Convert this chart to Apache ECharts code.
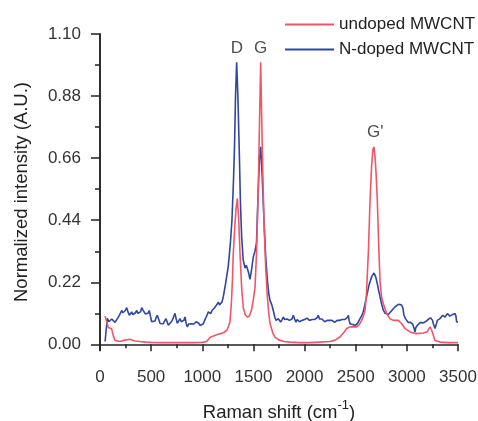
<!DOCTYPE html>
<html><head><meta charset="utf-8">
<script src="https://cdn.jsdelivr.net/npm/echarts@6/dist/echarts.min.js"></script>
<style>html,body{margin:0;padding:0;background:#fff}#c{width:478px;height:421px}</style>
</head><body><div id="c"></div><script>
// ---- data ----
const undopedX = [50,65,81,100,114,130,147,196,240,293,340,391,450,500,600,700,800,900,1000,1043,1075,1110,1141,1180,1210,1240,1258,1271,1285,1295,1303,1315,1330,1342,1355,1369,1385,1401,1420,1440,1460,1480,1500,1515,1530,1548,1560,1571,1582,1592,1603,1620,1636,1650,1662,1690,1711,1750,1800,1857,1950,2050,2150,2250,2300,2346,2380,2412,2445,2477,2509,2535,2558,2575,2591,2605,2624,2640,2655,2668,2679,2690,2700,2711,2725,2738,2754,2770,2803,2835,2868,2917,2950,2982,3031,3096,3161,3200,3226,3243,3275,3324,3400,3500];
const undopedY = [0.10,0.097,0.06,0.058,0.055,0.03,0.014,0.01,0.015,0.018,0.012,0.01,0.008,0.007,0.006,0.006,0.006,0.006,0.007,0.01,0.024,0.03,0.034,0.038,0.042,0.05,0.065,0.08,0.15,0.23,0.32,0.40,0.48,0.517,0.45,0.32,0.20,0.13,0.105,0.097,0.10,0.12,0.16,0.20,0.32,0.56,0.80,1.00,0.78,0.60,0.44,0.27,0.17,0.11,0.074,0.04,0.026,0.015,0.01,0.008,0.006,0.006,0.008,0.01,0.015,0.026,0.04,0.056,0.062,0.062,0.062,0.07,0.085,0.10,0.12,0.18,0.33,0.51,0.63,0.69,0.70,0.66,0.60,0.51,0.35,0.22,0.165,0.144,0.109,0.091,0.085,0.085,0.073,0.056,0.044,0.038,0.04,0.045,0.062,0.05,0.014,0.008,0.006,0.006];
const nDopedX = [50,60,72,85,98,115,130,147,163,176,189,200,212,224,235,248,261,274,287,298,310,321,332,346,359,371,384,396,408,419,430,443,456,469,482,493,505,521,538,549,560,573,587,603,619,632,645,656,668,684,701,717,733,745,756,770,782,795,808,820,831,842,853,866,880,893,906,918,929,940,951,965,978,994,1010,1023,1036,1048,1059,1071,1082,1095,1108,1120,1141,1157,1168,1180,1193,1206,1230,1255,1275,1290,1305,1315,1325,1336,1348,1362,1373,1385,1400,1418,1430,1440,1455,1466,1480,1499,1515,1530,1548,1560,1571,1585,1603,1620,1636,1650,1662,1680,1694,1710,1721,1743,1755,1766,1780,1792,1805,1818,1830,1841,1852,1864,1877,1890,1903,1916,1928,1939,1950,1962,1975,1988,2001,2014,2025,2037,2048,2060,2073,2086,2099,2112,2123,2134,2146,2158,2170,2183,2197,2210,2221,2232,2244,2256,2268,2281,2294,2307,2318,2330,2341,2353,2366,2379,2392,2405,2417,2428,2436,2444,2457,2470,2482,2493,2505,2516,2530,2542,2556,2568,2580,2591,2607,2630,2656,2679,2695,2711,2725,2738,2755,2770,2787,2803,2819,2835,2852,2868,2885,2901,2917,2933,2946,2959,2972,2985,2999,3012,3024,3036,3047,3056,3064,3072,3080,3088,3096,3109,3122,3134,3145,3157,3168,3181,3194,3207,3220,3232,3243,3251,3259,3267,3275,3287,3298,3311,3324,3337,3350,3361,3373,3385,3396,3409,3422,3435,3448,3460,3471,3480,3487,3500];
const nDopedY = [0.01,0.05,0.092,0.08,0.074,0.09,0.092,0.078,0.08,0.095,0.103,0.11,0.12,0.112,0.11,0.12,0.13,0.115,0.103,0.11,0.115,0.105,0.103,0.112,0.12,0.11,0.103,0.115,0.13,0.122,0.115,0.108,0.103,0.11,0.12,0.10,0.08,0.085,0.083,0.095,0.103,0.09,0.074,0.078,0.073,0.083,0.091,0.08,0.068,0.075,0.082,0.095,0.11,0.09,0.075,0.083,0.091,0.08,0.075,0.085,0.097,0.075,0.062,0.072,0.079,0.073,0.067,0.072,0.073,0.08,0.085,0.075,0.067,0.07,0.073,0.085,0.091,0.105,0.115,0.11,0.109,0.12,0.121,0.13,0.14,0.15,0.14,0.135,0.15,0.17,0.22,0.28,0.36,0.44,0.58,0.70,0.88,1.00,0.88,0.68,0.50,0.38,0.30,0.27,0.28,0.27,0.25,0.23,0.26,0.31,0.33,0.36,0.56,0.66,0.70,0.60,0.44,0.31,0.23,0.18,0.156,0.14,0.12,0.095,0.085,0.091,0.085,0.079,0.088,0.097,0.088,0.082,0.09,0.091,0.085,0.079,0.09,0.103,0.09,0.079,0.088,0.091,0.08,0.073,0.085,0.091,0.088,0.085,0.093,0.097,0.085,0.079,0.088,0.091,0.088,0.085,0.095,0.103,0.09,0.085,0.09,0.091,0.08,0.073,0.085,0.091,0.085,0.079,0.085,0.085,0.078,0.073,0.085,0.091,0.085,0.079,0.088,0.091,0.088,0.085,0.095,0.103,0.085,0.073,0.075,0.07,0.072,0.067,0.07,0.073,0.08,0.091,0.10,0.109,0.125,0.132,0.17,0.21,0.24,0.253,0.24,0.215,0.19,0.168,0.14,0.121,0.11,0.103,0.106,0.109,0.12,0.127,0.133,0.138,0.142,0.144,0.14,0.132,0.103,0.092,0.085,0.078,0.073,0.078,0.079,0.072,0.067,0.055,0.044,0.06,0.067,0.07,0.073,0.078,0.079,0.076,0.073,0.08,0.085,0.088,0.091,0.094,0.097,0.085,0.073,0.064,0.056,0.07,0.085,0.088,0.091,0.097,0.103,0.10,0.097,0.103,0.109,0.106,0.10,0.103,0.106,0.104,0.109,0.10,0.079,0.08];
const peakNames = ['D','G',"G'"];
const peakX = [1339,1571,2690];
const peakY = [1.05,1.05,0.75];
const yMajorTicks = [0,0.22,0.44,0.66,0.88,1.10];
const yMinorTicks = [0.11,0.33,0.55,0.77,0.99];
const seriesNames = ['undoped MWCNT','N-doped MWCNT'];

const FONT = 'Liberation Sans, Arial, sans-serif';
const AX = '#222';
const zip = (xs, ys) => xs.map((x,i)=>[x, ys[i]]);

const chart = echarts.init(document.getElementById('c'), null, {renderer:'canvas'});
chart.setOption({
  animation:false,
  backgroundColor:'#fff',
  textStyle:{fontFamily:FONT},
  grid:{left:100,right:20,top:34,bottom:71,containLabel:false,outerBoundsMode:'none'},
  legend:{
    data:seriesNames, orient:'vertical', left:280, top:11, itemGap:8,
    itemWidth:49, itemHeight:2, icon:'rect',
    textStyle:{fontSize:17,color:'#222',fontFamily:FONT}
  },
  xAxis:{
    type:'value', min:0, max:3500, interval:500,
    name:'Raman shift (cm{sup|-1})', nameLocation:'middle', nameGap:49,
    nameTextStyle:{fontSize:18.5,color:'#222',fontFamily:FONT,
      rich:{sup:{fontSize:13,verticalAlign:'top',lineHeight:28,color:'#222',fontFamily:FONT}}},
    axisLine:{show:true,lineStyle:{color:AX,width:1.5}},
    axisTick:{show:true,length:7,lineStyle:{color:AX,width:1.5}},
    minorTick:{show:true,splitNumber:2,length:4,lineStyle:{color:AX,width:1.5}},
    axisLabel:{fontSize:17,color:'#333',margin:19,fontFamily:FONT,formatter:v=>String(v)},
    splitLine:{show:false}
  },
  yAxis:[{
    type:'value', min:-0.02, max:1.10,
    name:'Normalized intensity (A.U.)', nameLocation:'middle', nameGap:69,
    nameTextStyle:{fontSize:18.5,color:'#222',fontFamily:FONT},
    axisLine:{show:true,lineStyle:{color:AX,width:1.5}},
    axisTick:{show:true,length:9,customValues:yMajorTicks,lineStyle:{color:AX,width:1.5}},
    axisLabel:{fontSize:17,color:'#333',margin:19,customValues:yMajorTicks,fontFamily:FONT,
      formatter:v=>Number(v).toFixed(2)},
    splitLine:{show:false}
  },{
    type:'value', min:-0.02, max:1.10, position:'left',
    axisLine:{show:true,lineStyle:{color:AX,width:1.5}},
    axisTick:{show:true,length:5,customValues:yMinorTicks,lineStyle:{color:AX,width:1.5}},
    axisLabel:{show:false},
    splitLine:{show:false}
  }],
  series:[
    {name:seriesNames[0], type:'line', symbol:'none', data:zip(undopedX,undopedY),
      lineStyle:{color:'#f0566a',width:1.6}, itemStyle:{color:'#f0566a'}, z:3},
    {name:seriesNames[1], type:'line', symbol:'none', data:zip(nDopedX,nDopedY),
      lineStyle:{color:'#2f47a0',width:1.6}, itemStyle:{color:'#2f47a0'}, z:2},
    {name:'peaks', type:'scatter', symbolSize:0, silent:true,
      data:peakNames.map((n,i)=>({value:[peakX[i],peakY[i]],name:n})),
      label:{show:true,position:'inside',formatter:p=>p.name,fontSize:17,color:'#222',fontFamily:FONT}}
  ]
});
</script></body></html>
